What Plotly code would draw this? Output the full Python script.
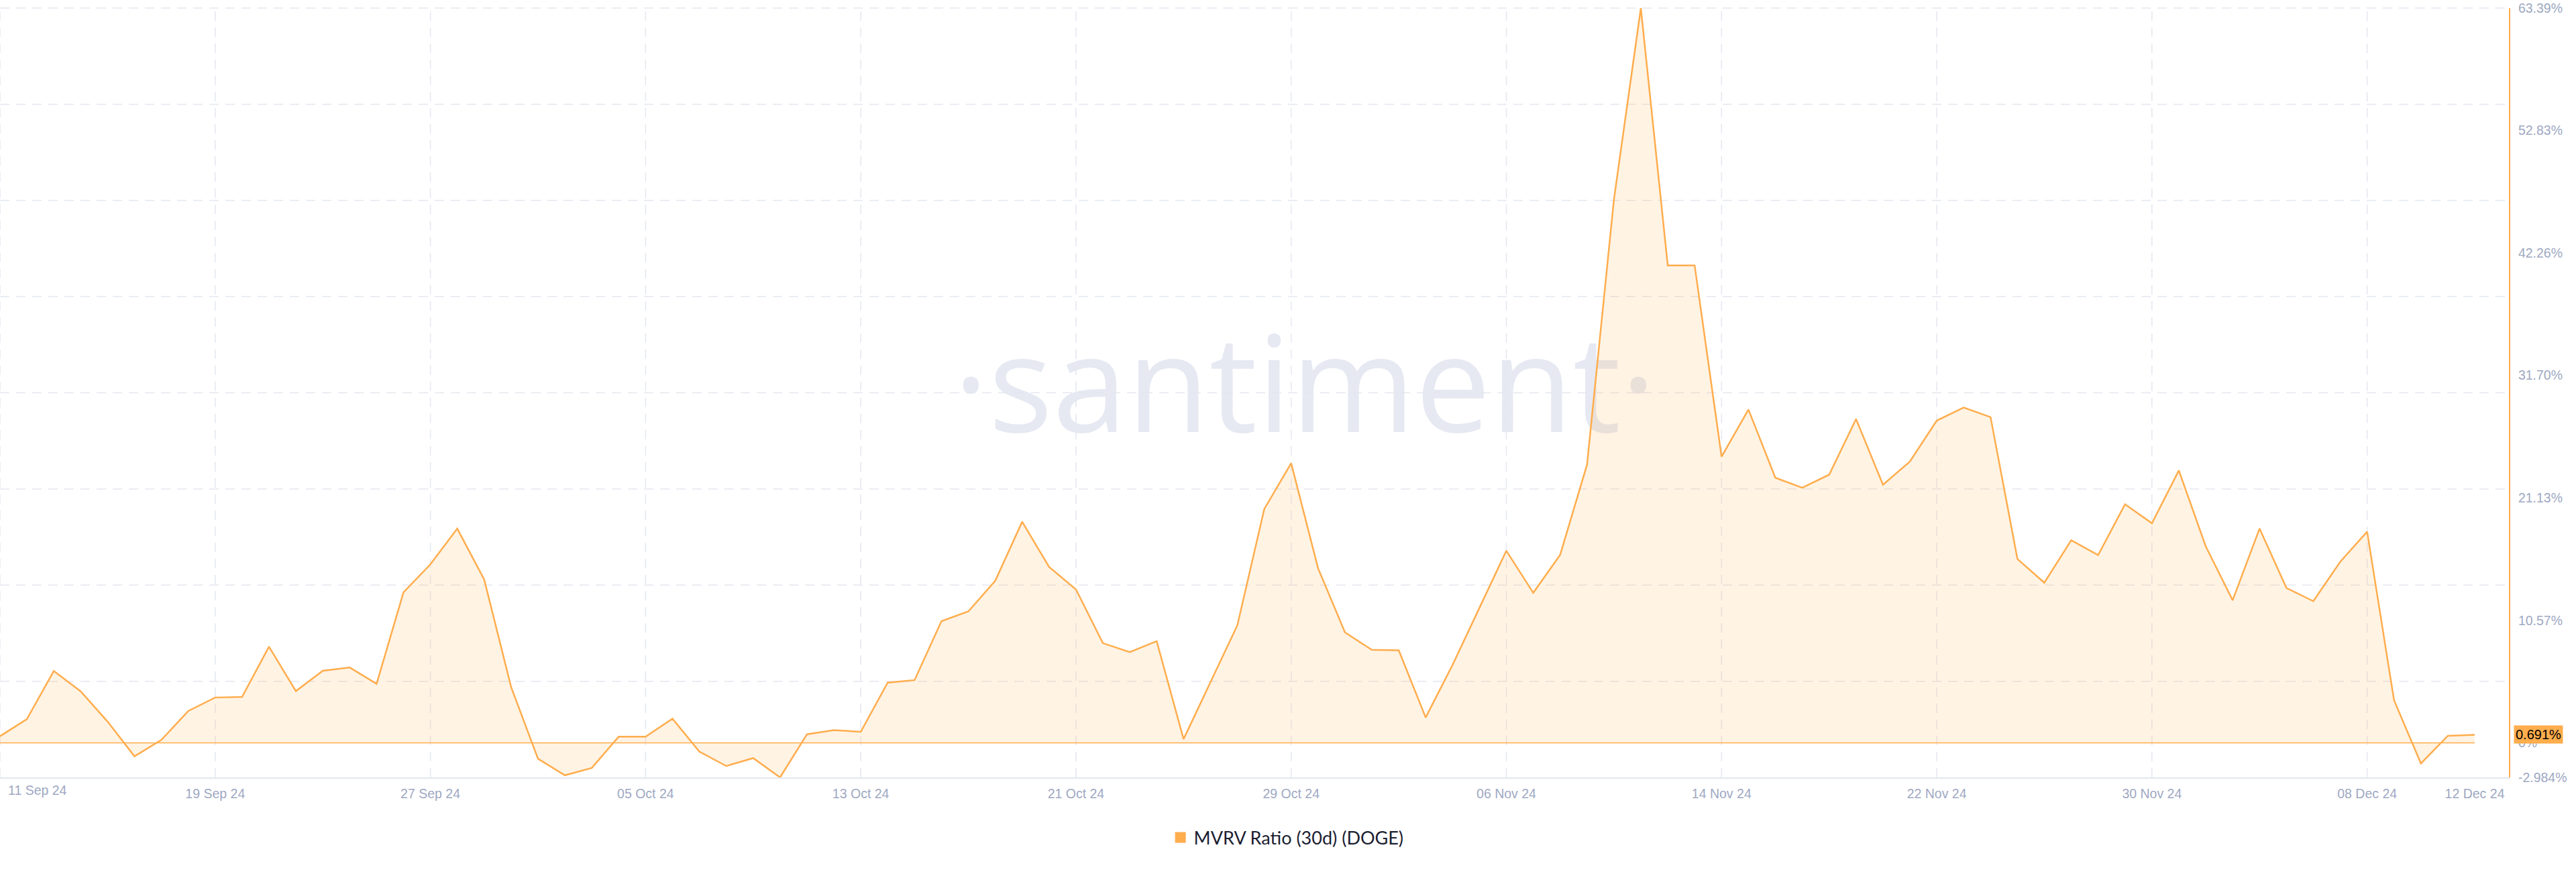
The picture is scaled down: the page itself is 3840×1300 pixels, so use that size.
import pandas as pd
import plotly.graph_objects as go

# ---------------- data ----------------
start_date = "2024-09-11"
mvrv_values = [
    0.57, 2.04, 6.2, 4.44, 1.83, -1.16, 0.25, 2.75, 3.91, 3.96,
    8.29, 4.46, 6.22, 6.5, 5.09, 12.98, 15.4, 18.48, 14.09, 4.82,
    -1.37, -2.8, -2.17, 0.53, 0.53, 2.08, -0.76, -2.0, -1.32, -2.984,
    0.74, 1.09, 0.95, 5.19, 5.41, 10.5, 11.34, 13.98, 19.07, 15.18,
    13.23, 8.6, 7.83, 8.77, 0.32, 5.23, 10.14, 20.17, 24.12, 15.06,
    9.53, 8.02, 7.98, 2.19, 6.72, 11.65, 16.57, 12.94, 16.22, 24.0,
    46.89, 63.39, 41.19, 41.19, 24.69, 28.75, 22.87, 22.01, 23.13, 27.93,
    22.27, 24.26, 27.8, 28.92, 28.1, 15.86, 13.81, 17.48, 16.2, 20.58,
    18.94, 23.5, 16.95, 12.3, 18.48, 13.36, 12.22, 15.62, 18.22, 3.67,
    -1.78, 0.61, 0.691,
]
dates = pd.date_range(start_date, periods=len(mvrv_values), freq="D")

x_tick_dates = ["2024-09-11", "2024-09-19", "2024-09-27", "2024-10-05", "2024-10-13",
                "2024-10-21", "2024-10-29", "2024-11-06", "2024-11-14", "2024-11-22",
                "2024-11-30", "2024-12-08", "2024-12-12"]
x_tick_labels = ["11 Sep 24", "19 Sep 24", "27 Sep 24", "05 Oct 24", "13 Oct 24",
                 "21 Oct 24", "29 Oct 24", "06 Nov 24", "14 Nov 24", "22 Nov 24",
                 "30 Nov 24", "08 Dec 24", "12 Dec 24"]
grid_dates = x_tick_dates[:-1]

y_tick_vals = [-2.984, 0, 10.57, 21.13, 31.70, 42.26, 52.83, 63.39]
y_tick_labels = ["-2.984%", "0%", "10.57%", "21.13%", "31.70%", "42.26%", "52.83%", "63.39%"]

series_name = "MVRV Ratio (30d) (DOGE)"
last_label = "0.691%"

# ---------------- style ----------------
ORANGE = "#ffad4d"
GRID = "#e4e7f0"
TICK = "#9ea8c2"
TICK_FONT = dict(family="Liberation Sans, Arial, sans-serif", size=19.5, color=TICK)

fig = go.Figure()

fig.add_trace(go.Scatter(
    x=dates, y=mvrv_values, mode="lines",
    line=dict(color=ORANGE, width=2.5),
    fill="tozeroy", fillcolor="rgba(255,173,77,0.15)",
    showlegend=False, hoverinfo="skip",
))
# legend entry (square swatch)
fig.add_trace(go.Scatter(
    x=[None], y=[None], mode="markers", name=series_name,
    marker=dict(symbol="square", size=18, color=ORANGE),
))

shapes = []
# watermark (below everything)
shapes.append(dict(
    type="rect", xref="paper", yref="paper", x0=0.32, x1=0.72, y0=0.504, y1=0.504,
    line=dict(width=0), fillcolor="rgba(0,0,0,0)", layer="below",
    label=dict(text="·santiment·", textposition="middle center",
               font=dict(family="Open Sans, sans-serif", size=200, color="#e6e9f2")),
))
# horizontal dashed gridlines (evenly spaced in plot height)
for k in range(1, 9):
    shapes.append(dict(type="line", xref="paper", yref="paper", x0=0, x1=1,
                       y0=k / 8, y1=k / 8, layer="below",
                       line=dict(color=GRID, width=1.5, dash="14px,10px")))
# vertical dashed gridlines at the 8-day ticks
for d in grid_dates:
    shapes.append(dict(type="line", xref="x", yref="paper", x0=d, x1=d, y0=0, y1=1,
                       layer="below", line=dict(color=GRID, width=1.5, dash="14px,10px")))
# zero baseline across the data span
shapes.append(dict(type="line", xref="x", yref="y", x0=dates[0], x1=dates[-1], y0=0, y1=0,
                   layer="above", line=dict(color=ORANGE, width=1.5)))

annotations = [
    dict(text=x_tick_labels[0], xref="x", yref="paper", x=x_tick_dates[0], y=-0.0166,
         xanchor="left", yanchor="middle", xshift=10, showarrow=False, font=TICK_FONT),
    dict(text=last_label, xref="paper", yref="y", x=1, y=mvrv_values[-1],
         xanchor="left", yanchor="middle", xshift=7, showarrow=False,
         bgcolor=ORANGE, borderpad=2,
         font=dict(family="Liberation Sans, Arial, sans-serif", size=20, color="#000000")),
]

fig.update_layout(
    width=3840, height=1300,
    margin=dict(l=0, r=100, t=12, b=141),
    paper_bgcolor="white", plot_bgcolor="white",
    shapes=shapes, annotations=annotations,
    showlegend=True,
    legend=dict(orientation="h", x=0.513, xanchor="center", y=-0.0785, yanchor="middle",
                font=dict(family="Lato, Inter, sans-serif", size=27, color="#1b2030"),
                bgcolor="rgba(0,0,0,0)"),
    xaxis=dict(
        type="date",
        range=[dates[0], dates[-1] + pd.Timedelta(hours=30.5)],
        tickvals=x_tick_dates[1:], ticktext=x_tick_labels[1:],
        showgrid=False, zeroline=False,
        showline=True, linecolor="#e3e7f0", linewidth=2,
        ticks="outside", ticklen=6, tickcolor="rgba(0,0,0,0)",
        tickfont=TICK_FONT,
    ),
    yaxis=dict(
        side="right",
        range=[y_tick_vals[0], y_tick_vals[-1]],
        tickvals=y_tick_vals, ticktext=y_tick_labels,
        showgrid=False, zeroline=False,
        showline=True, linecolor=ORANGE, linewidth=2,
        ticks="outside", ticklen=8, tickcolor="rgba(0,0,0,0)",
        tickfont=TICK_FONT,
    ),
)

fig.write_html("out.html", config={"displayModeBar": False},
               post_script="document.body.style.margin='0';")
